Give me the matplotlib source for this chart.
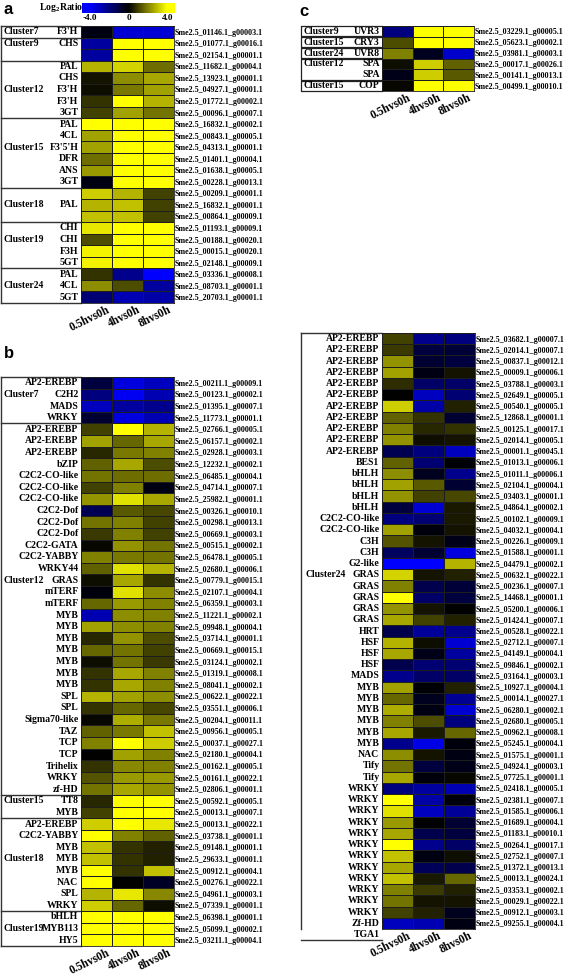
import matplotlib
matplotlib.use('Agg')
import matplotlib.pyplot as plt
import numpy as np
from matplotlib.colors import LinearSegmentedColormap, Normalize
from matplotlib.transforms import ScaledTranslation

plt.rcParams['mathtext.fontset'] = 'custom'
plt.rcParams['mathtext.rm'] = 'Liberation Serif:bold'
plt.rcParams['mathtext.it'] = 'Liberation Serif:bold'

# ---------------- DATA ----------------
columns = ["0.5hvs0h", "4hvs0h", "8hvs0h"]
cbar_ticks = [-4.0, 0, 4.0]
cbar_ticklabels = ["-4.0", "0", "4.0"]

# Panel a
a_groups = [("Cluster7", 1, 0), ("Cluster9", 2, 0), ("Cluster12", 5, 2), ("Cluster15", 6, 2),
            ("Cluster18", 3, 1), ("Cluster19", 4, 1), ("Cluster24", 3, 1)]
a_genes = ["F3'H", "CHS", "", "PAL", "CHS", "F3'H", "F3'H", "3GT",
           "PAL", "4CL", "F3'5'H", "DFR", "ANS", "3GT", "", "PAL", "",
           "CHI", "CHI", "F3H", "5GT", "PAL", "4CL", "5GT"]
a_ids = ["01146.1_g00003.1", "01077.1_g00016.1", "02154.1_g00001.1", "11682.1_g00004.1",
         "13923.1_g00001.1", "04927.1_g00001.1", "01772.1_g00002.1", "00096.1_g00007.1",
         "16832.1_g00002.1", "00843.1_g00005.1", "04313.1_g00001.1", "01401.1_g00004.1",
         "01638.1_g00005.1", "00228.1_g00013.1", "00209.1_g00001.1", "16832.1_g00001.1",
         "00864.1_g00009.1", "01193.1_g00009.1", "00188.1_g00020.1", "00015.1_g00020.1",
         "02148.1_g00009.1", "03336.1_g00008.1", "08703.1_g00001.1", "20703.1_g00001.1"]
a_vals = [[-0.3, -3.3, -3.3], [-2.5, 4, 4], [-2.5, 4, 4], [2.8, 3.3, 1.7], [0.3, 2.2, 2.6],
          [0.2, 1.9, 2.5], [0.8, 4, 2.8], [1.0, 2.5, 1.8], [4, 4, 4], [2.5, 4, 4],
          [2.5, 4, 4], [1.7, 4, 4], [2.4, 4, 4], [-0.3, 4, 4], [3.2, 2.8, 1.0],
          [2.8, 3.0, 1.0], [3.0, 3.0, 1.0], [3.6, 4, 4], [1.2, 4, 4], [3.8, 4, 4],
          [3.8, 4, 4], [0.8, -2.2, -4], [2.2, 1.2, -2.5], [-1.8, -2.8, -2.6]]

# Panel b
b_groups = [("Cluster7", 4, 1), ("Cluster12", 32, 13), ("Cluster15", 2, 0),
            ("Cluster18", 8, 3), ("Cluster19", 3, 1)]
b_genes = ["AP2-EREBP", "C2H2", "MADS", "WRKY",
           "AP2-EREBP", "AP2-EREBP", "AP2-EREBP", "bZIP", "C2C2-CO-like", "C2C2-CO-like",
           "C2C2-CO-like", "C2C2-Dof", "C2C2-Dof", "C2C2-Dof", "C2C2-GATA", "C2C2-YABBY",
           "WRKY44", "GRAS", "mTERF", "mTERF", "MYB", "MYB", "MYB", "MYB", "MYB", "MYB",
           "MYB", "SPL", "SPL", "Sigma70-like", "TAZ", "TCP", "TCP", "Trihelix", "WRKY", "zf-HD",
           "TT8", "MYB",
           "AP2-EREBP", "C2C2-YABBY", "MYB", "MYB", "MYB", "NAC", "SPL", "WRKY",
           "bHLH", "MYB113", "HY5"]
b_ids = ["00211.1_g00009.1", "00123.1_g00002.1", "01395.1_g00007.1", "11773.1_g00001.1",
         "02766.1_g00005.1", "06157.1_g00002.1", "02928.1_g00003.1", "12232.1_g00002.1",
         "06485.1_g00004.1", "04714.1_g00007.1", "25982.1_g00001.1", "00326.1_g00010.1",
         "00298.1_g00013.1", "00669.1_g00003.1", "00515.1_g00002.1", "06478.1_g00005.1",
         "02680.1_g00006.1", "00779.1_g00015.1", "02107.1_g00004.1", "06359.1_g00003.1",
         "11221.1_g00002.1", "09948.1_g00004.1", "03714.1_g00001.1", "00669.1_g00015.1",
         "03124.1_g00002.1", "01319.1_g00008.1", "08041.1_g00002.1", "00622.1_g00022.1",
         "03551.1_g00006.1", "00204.1_g00011.1", "00956.1_g00005.1", "00037.1_g00027.1",
         "02180.1_g00004.1", "00162.1_g00005.1", "00161.1_g00022.1", "02806.1_g00001.1",
         "00592.1_g00005.1", "00013.1_g00007.1",
         "00013.1_g00022.1", "03738.1_g00001.1", "09148.1_g00001.1", "29633.1_g00001.1",
         "00912.1_g00004.1", "00276.1_g00022.1", "04961.1_g00003.1", "07339.1_g00001.1",
         "06398.1_g00001.1", "05099.1_g00002.1", "03211.1_g00004.1"]
b_vals = [[-1.0, -3.5, -3.0], [-2.0, -3.8, -2.8], [-3.0, -2.5, -2.2], [-0.8, -3.5, -2.8],
          [1.0, 4, 2.8], [2.5, 1.6, 2.6], [0.6, 1.9, 2.0], [1.5, 2.6, 1.2], [1.8, 1.7, 1.7],
          [1.0, 2.0, -0.3], [2.3, 3.5, 2.6], [-1.3, 1.4, 1.1], [1.8, 2.0, 1.0], [0.9, 2.0, 1.0],
          [0.1, 2.3, 1.8], [2.0, 1.9, 1.8], [1.5, 3.5, 2.8], [0.2, 2.6, 0.8], [-0.2, 3.5, 2.2],
          [1.6, 2.4, 2.0], [-2.8, 2.2, 2.0], [2.5, 2.2, 2.0], [0.6, 2.3, 1.2], [1.6, 1.8, 1.0],
          [0.2, 1.8, 0.9], [0.8, 2.6, 2.0], [0.8, 2.6, 2.0], [2.8, 2.5, 2.2], [0.8, 1.6, 1.1],
          [0.1, 2.7, 1.9], [1.5, 1.9, 3.0], [2.0, 4, 3.2], [0.0, 2.5, 2.0], [0.8, 2.1, 2.0],
          [1.3, 2.4, 2.4], [1.8, 2.6, 2.3],
          [0.6, 4, 4], [1.0, 4, 4],
          [3.2, 4, 3.6], [4, 2.0, 1.5], [3.0, 0.8, 0.5], [3.0, 0.8, 0.5], [4, 0.8, 3.0],
          [4, 0.0, -0.6], [2.8, 3.6, 2.1], [3.2, 1.6, 0.2],
          [4, 4, 4], [4, 4, 4], [4, 4, 4]]

# Panel c
c_groups = [("Cluster9", 1, 0), ("Cluster15", 1, 0), ("Cluster24", 1, 0),
            ("Cluster12", 2, 0), ("Cluster15", 1, 0)]
c_genes = ["UVR3", "CRY3", "UVR8", "SPA", "SPA", "COP"]
c_ids = ["03229.1_g00005.1", "05623.1_g00002.1", "03981.1_g00003.1",
         "00017.1_g00026.1", "00141.1_g00013.1", "00499.1_g00010.1"]
c_vals = [[-2.0, 4, 4], [1.2, 4, 4], [2.0, -0.5, -3.2],
          [0.2, 3.2, 1.5], [-0.4, 3.2, 1.4], [0.1, 4, 4]]

# Panel d
d_groups = [("Cluster24", 54, 21)]
d_genes = ["AP2-EREBP"] * 11 + ["BES1", "bHLH", "bHLH", "bHLH", "bHLH",
           "C2C2-CO-like", "C2C2-CO-like", "C3H", "C3H", "G2-like",
           "GRAS", "GRAS", "GRAS", "GRAS", "GRAS", "HRT", "HSF", "HSF", "HSF", "MADS",
           "MYB", "MYB", "MYB", "MYB", "MYB", "MYB", "NAC", "Tify", "Tify"] + \
          ["WRKY"] * 12 + ["Zf-HD", "TGA1"]
d_ids = ["03682.1_g00007.1", "02014.1_g00007.1", "00837.1_g00012.1", "00009.1_g00006.1",
         "03788.1_g00003.1", "02649.1_g00005.1", "00540.1_g00005.1", "12868.1_g00001.1",
         "00125.1_g00017.1", "02014.1_g00005.1", "00001.1_g00045.1", "01013.1_g00006.1",
         "01011.1_g00006.1", "02104.1_g00004.1", "03403.1_g00001.1", "04864.1_g00002.1",
         "00102.1_g00009.1", "04032.1_g00004.1", "00226.1_g00009.1", "01588.1_g00001.1",
         "04479.1_g00002.1", "00632.1_g00022.1", "00236.1_g00007.1", "14468.1_g00001.1",
         "05200.1_g00006.1", "01424.1_g00007.1", "00528.1_g00022.1", "02712.1_g00007.1",
         "04149.1_g00004.1", "09846.1_g00002.1", "03164.1_g00003.1", "10927.1_g00004.1",
         "00014.1_g00027.1", "06280.1_g00002.1", "02680.1_g00005.1", "00962.1_g00008.1",
         "05245.1_g00004.1", "01575.1_g00001.1", "04924.1_g00003.1", "07725.1_g00001.1",
         "02418.1_g00005.1", "02381.1_g00007.1", "01585.1_g00006.1", "01689.1_g00004.1",
         "01183.1_g00010.1", "00264.1_g00017.1", "02752.1_g00007.1", "01372.1_g00013.1",
         "00013.1_g00024.1", "03353.1_g00002.1", "00029.1_g00022.1", "00912.1_g00003.1",
         "09255.1_g00004.1"]
d_vals = [[1.0, -2.2, -2.0], [0.9, -1.0, -0.9], [2.3, -0.8, -1.0], [2.5, -0.3, 0.3],
          [0.7, -1.6, -1.6], [0.0, -3.0, -1.8], [3.2, -2.6, 0.5], [1.5, 0.8, -0.8],
          [2.0, 0.6, 0.8], [2.3, 0.2, 0.3], [-1.3, -2.0, -3.0], [1.5, -1.8, -0.1],
          [2.2, -0.5, -2.2], [2.5, 1.4, -0.8], [2.3, 1.0, 1.1], [-1.0, -3.3, 0.4],
          [-2.0, -1.8, 0.4], [2.5, -0.2, 0.3], [1.3, 0.3, -0.4], [-1.5, -0.8, -3.5],
          [-4, -4, 2.8], [3.3, 0.3, 0.5], [2.0, -1.2, -0.9], [4, -1.6, -1.0],
          [2.3, 0.3, 0.0], [2.6, 1.0, 0.5], [-1.2, -2.4, -2.2], [2.8, 0.2, -3.3],
          [2.6, -0.4, -2.5], [-1.2, -1.8, -1.8], [-2.2, -1.6, -1.6], [2.5, -0.1, 0.5],
          [1.6, -0.5, -2.3], [2.7, -0.3, -3.3], [2.0, 1.2, -2.0], [2.6, 0.4, 1.6],
          [-2.2, -3.6, -0.2], [2.2, 0.3, -0.3], [1.8, -1.0, -0.4], [2.6, -0.2, 0.1],
          [-2.0, -2.5, -2.8], [4, -2.6, -0.2], [3.5, -3.0, -2.4], [2.4, 0.0, -0.8],
          [2.6, -1.2, -1.0], [4, -2.2, -1.6], [3.0, -0.3, 0.2], [2.6, -1.4, -1.2],
          [3.0, 0.4, 1.6], [2.0, 0.9, 0.5], [1.8, 0.3, 0.3], [1.0, 0.5, -0.5],
          [-3.0, -2.8, -0.3]]

# ---------------- FIGURE ----------------
W, H = 567, 977
fig = plt.figure(figsize=(W / 100, H / 100), dpi=100)
cmap = LinearSegmentedColormap.from_list('by', ['#0000ff', '#000000', '#ffff00'])
norm = Normalize(-4, 4)
SERIF = 'Liberation Serif'


def ax_px(x, y, w, h):
    return fig.add_axes([x / W, 1 - (y + h) / H, w / W, h / H])


def heat(rect, vals, ids, genes, groups, box_left, clus_x, sep_boxes=False,
         prefix="Sme2.5_", col_labels=True):
    x, y, w, h = rect
    ax = ax_px(x, y, w, h)
    data = np.array(vals, dtype=float)
    n = len(data)
    ax.pcolormesh(data, cmap=cmap, norm=norm, edgecolors='#1e1e1e', linewidth=0.6)
    ax.set_xlim(0, 3)
    ax.set_ylim(n, 0)
    for s in ax.spines.values():
        s.set_linewidth(0.6)
        s.set_color('#1e1e1e')
    ax.yaxis.tick_right()
    ax.set_yticks(np.arange(n) + 0.5)
    ax.set_yticklabels([prefix + i for i in ids], fontsize=5.75, family=SERIF,
                       fontweight='bold')
    ax.tick_params(axis='y', length=0, pad=0.6)
    ax.set_xticks([])
    tr = ax.get_yaxis_transform()
    # gene names
    for i, g in enumerate(genes):
        ax.text(-2.5 / w, i + 0.5, g, transform=tr, ha='right', va='center',
                fontsize=7.0, family=SERIF, fontweight='bold')
    # boxes and cluster labels
    xl = (box_left - x) / w
    start = 0
    for gi, (name, cnt, li) in enumerate(groups):
        end = start + cnt
        if sep_boxes:
            y0, y1 = start + 0.04, end - 0.04
            ax.plot([0, xl, xl, 0], [y0, y0, y1, y1], transform=tr, color='#222222',
                    lw=0.9, clip_on=False)
        else:
            ax.plot([xl, 0], [start, start], transform=tr, color='#333333', lw=1.0,
                    clip_on=False)
            if gi == len(groups) - 1:
                ax.plot([xl, 0], [end, end], transform=tr, color='#333333', lw=1.0,
                        clip_on=False)
        ax.text((clus_x - x) / w, start + li + 0.5, name, transform=tr, ha='left',
                va='center', fontsize=6.9, family=SERIF, fontweight='bold')
        start = end
    if not sep_boxes:
        ax.plot([xl, xl], [0, n], transform=tr, color='#333333', lw=1.0, clip_on=False)
    # column labels
    if col_labels:
        xtr = ax.get_xaxis_transform()
        for j, c in enumerate(columns):
            off = ScaledTranslation(15 / 100, -1 / 100, fig.dpi_scale_trans)
            ax.text(j + 0.5, 0, c, transform=xtr + off, rotation=26, ha='right', va='top',
                    fontsize=8.3, family=SERIF, fontweight='bold')
    return ax


heat((81, 26, 93, 277), a_vals, a_ids, a_genes, a_groups, 1, 4)
heat((81, 377, 93, 569), b_vals, b_ids, b_genes, b_groups, 1, 3)
heat((382, 26, 92, 65), c_vals, c_ids, c_genes, c_groups, 301, 304, sep_boxes=True)
heat((382, 333, 93, 596), d_vals, d_ids, d_genes, d_groups, 301, 306)

# colorbar
cax = ax_px(82, 3, 93, 10)
grad = np.linspace(-4.8, 4.8, 200)[None, :]
cax.imshow(grad, cmap=cmap, norm=norm, aspect='auto', extent=[-4.8, 4.8, 0, 1])
cax.set_xlim(-4.8, 4.8)
cax.set_yticks([])
cax.set_xticks(cbar_ticks)
cax.set_xticklabels(cbar_ticklabels, fontsize=6.6, family=SERIF, fontweight='bold')
cax.tick_params(axis='x', length=0, pad=0.5)
for s in cax.spines.values():
    s.set_visible(False)
fig.text(39 / W, 1 - 8 / H, r'$\mathrm{Log_2Ratio}$', fontsize=7, ha='left', va='center')

# panel letters
for lab, px, py in [("a", 4, 9), ("b", 4, 353), ("c", 299, 11)]:
    fig.text(px / W, 1 - py / H, lab, fontsize=12, family='Liberation Sans',
             fontweight='bold', ha='left', va='center')

fig.savefig('out.png', dpi=100)
